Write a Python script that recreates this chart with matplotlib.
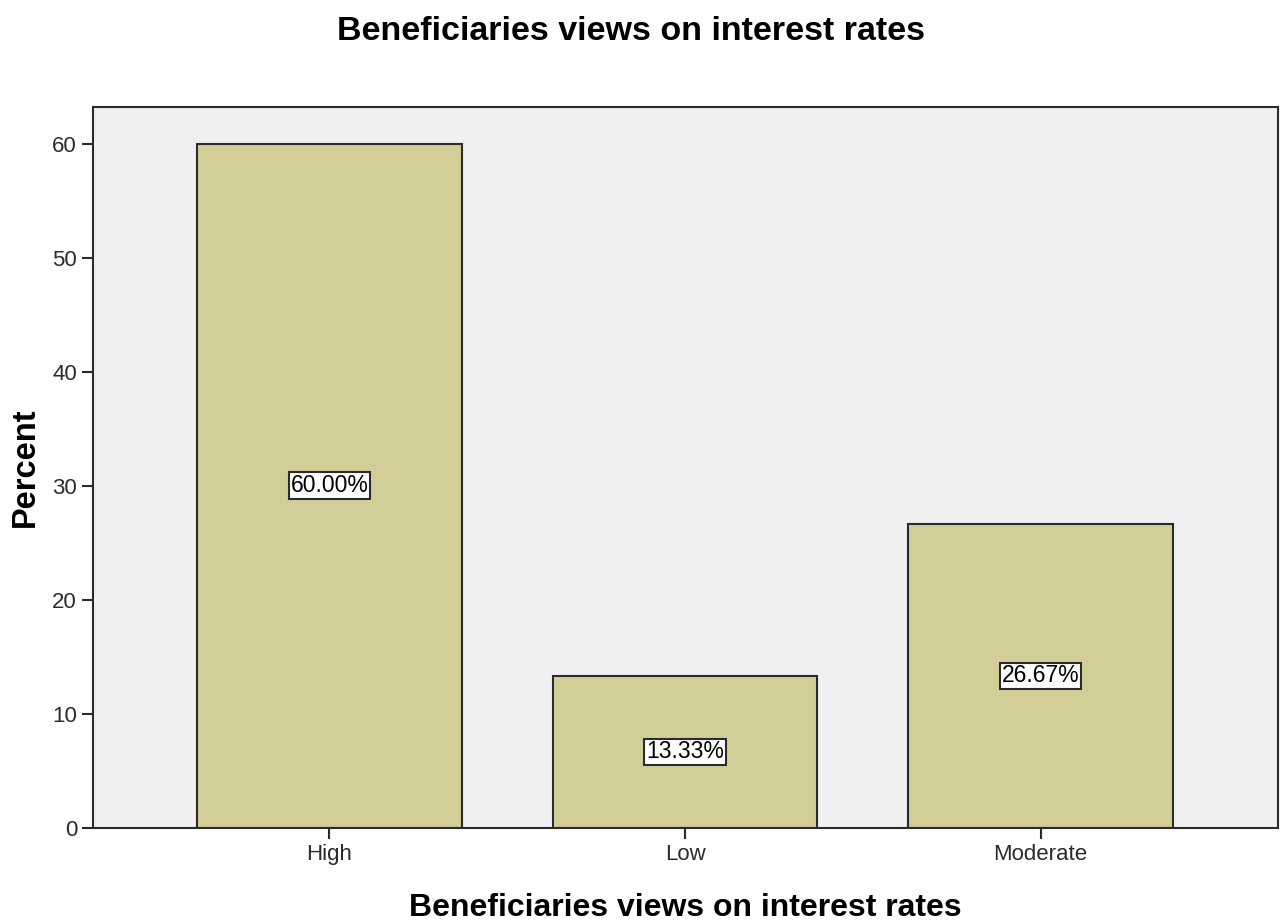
import matplotlib
matplotlib.use('Agg')
import matplotlib.pyplot as plt

plt.rcParams['font.family'] = ['Liberation Sans', 'DejaVu Sans']

categories = ['High', 'Low', 'Moderate']
percents = [60.00, 13.33, 26.67]
labels = ['60.00%', '13.33%', '26.67%']
yticks = [0, 10, 20, 30, 40, 50, 60]

fig = plt.figure(figsize=(12.85, 9.24), dpi=100)
ax = fig.add_axes([0.0724, 0.1039, 0.9222, 0.7803])
ax.set_facecolor('#f0f0f0')

x = range(len(categories))
ax.bar(x, percents, width=0.745, color='#d3cd97', edgecolor='#2b2b2b', linewidth=1.5)

# value labels in the middle of each bar
for xi, v, lab in zip(x, percents, labels):
    ax.text(xi, v / 2, lab, ha='center', va='center', fontsize=16.5,
            bbox=dict(boxstyle='square,pad=0.08', facecolor='white',
                      edgecolor='#2b2b2b', linewidth=1.5))

ax.set_xlim(-0.665, 2.668)
ax.set_ylim(0, 63.2)
ax.set_xticks(list(x))
ax.set_xticklabels(categories, fontsize=16)
ax.set_yticks(yticks)
ax.tick_params(axis='y', labelsize=16, length=8, width=1.5, direction='out', colors='#2b2b2b')
ax.tick_params(axis='x', length=8, width=1.5, direction='out', colors='#2b2b2b')
for s in ax.spines.values():
    s.set_linewidth(1.5)
    s.set_color('#2b2b2b')

ax.set_ylabel('Percent', fontsize=23.5, fontweight='bold', labelpad=8)
ax.set_xlabel('Beneficiaries views on interest rates', fontsize=23, fontweight='bold', labelpad=20)
fig.suptitle('Beneficiaries views on interest rates', fontsize=24.5, fontweight='bold',
             x=0.491, y=0.983)

fig.savefig('out.png', dpi=100)
